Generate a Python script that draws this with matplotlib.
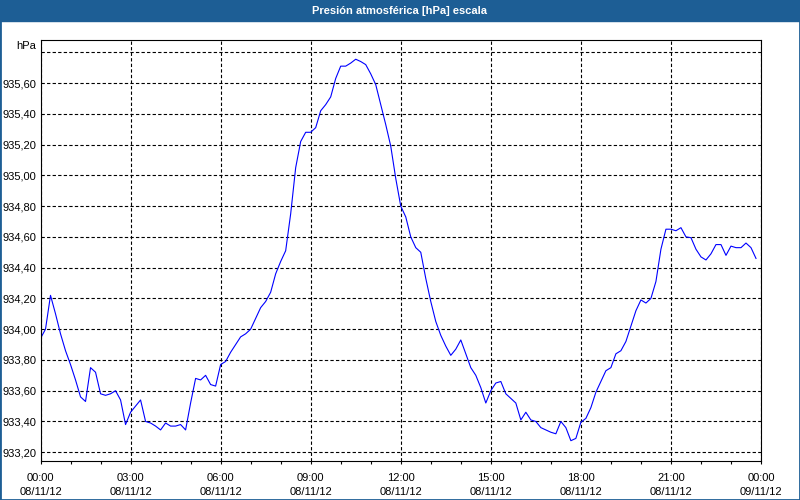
import matplotlib
matplotlib.use("Agg")
import matplotlib.pyplot as plt
import matplotlib.dates as mdates
from matplotlib.patches import Rectangle
from matplotlib.ticker import FixedLocator, FuncFormatter
import pandas as pd

plt.rcParams["font.family"] = ["Liberation Sans", "DejaVu Sans"]

# presion cada 10 minutos, 08/11/12 00:00 .. 23:50
presion = [
    933.94, 934.00, 934.22, 934.10, 933.97, 933.86, 933.77, 933.67, 933.56, 933.53,
    933.75, 933.72, 933.58, 933.57, 933.58, 933.60, 933.54, 933.38, 933.46, 933.50,
    933.54, 933.40, 933.39, 933.37, 933.345, 933.39, 933.37, 933.37, 933.38, 933.345,
    933.52, 933.68, 933.67, 933.70, 933.64, 933.63, 933.77, 933.79, 933.85, 933.90,
    933.95, 933.97, 934.00, 934.07, 934.14, 934.18, 934.24, 934.36, 934.44, 934.51,
    934.75, 935.05, 935.22, 935.28, 935.28, 935.31, 935.42, 935.46, 935.51, 935.63,
    935.71, 935.71, 935.73, 935.755, 935.74, 935.72, 935.66, 935.59, 935.46, 935.33,
    935.19, 934.98, 934.80, 934.73, 934.60, 934.53, 934.50, 934.33, 934.18, 934.05,
    933.96, 933.89, 933.83, 933.87, 933.93, 933.84, 933.75, 933.70, 933.62, 933.52,
    933.60, 933.65, 933.66, 933.58, 933.55, 933.52, 933.41, 933.46, 933.41, 933.40,
    933.36, 933.345, 933.33, 933.32, 933.40, 933.36, 933.275, 933.29, 933.395, 933.42,
    933.49, 933.59, 933.66, 933.73, 933.75, 933.84, 933.86, 933.92, 934.02, 934.12,
    934.19, 934.17, 934.20, 934.31, 934.52, 934.65, 934.65, 934.64, 934.66, 934.60,
    934.595, 934.52, 934.47, 934.45, 934.49, 934.55, 934.55, 934.48, 934.54, 934.53,
    934.53, 934.56, 934.53, 934.46,
]
horas = pd.date_range("2012-11-08 00:00", periods=len(presion), freq="10min")
y_ticks = [933.2, 933.4, 933.6, 933.8, 934.0, 934.2, 934.4, 934.6, 934.8,
           935.0, 935.2, 935.4, 935.6, 935.8]
titulo = "Presión atmosférica [hPa] escala"
azul = "#1d5e95"

fig = plt.figure(figsize=(8, 5), dpi=100, facecolor="white")
ax = fig.add_axes([40.5 / 800, 39.3 / 500, 720.5 / 800, 420.7 / 500])

ax.plot(horas, presion, color="#0000ff", lw=0.8)

ax.set_xlim(pd.Timestamp("2012-11-08 00:00"), pd.Timestamp("2012-11-09 00:00"))
ax.set_ylim(933.145, 935.88)

ax.yaxis.set_major_locator(FixedLocator(y_ticks))
ax.yaxis.set_major_formatter(FuncFormatter(
    lambda v, p: "" if v > 935.7 else f"{v:.2f}".replace(".", ",")))
ax.xaxis.set_major_locator(mdates.HourLocator(byhour=range(0, 24, 3)))
ax.xaxis.set_minor_locator(mdates.HourLocator())
ax.xaxis.set_major_formatter(mdates.DateFormatter("%H:%M\n%d/%m/%y"))

ax.grid(True, which="major", color="black", lw=0.8, linestyle=(0, (3, 2)))
ax.tick_params(axis="y", length=0, pad=3, labelsize=8, labelcolor="black")
ax.tick_params(axis="x", which="both", length=2.5, width=0.8, direction="out",
               pad=6, labelsize=8, labelcolor="black")
for s in ax.spines.values():
    s.set_color("black")
    s.set_linewidth(0.8)
for lbl in ax.get_xticklabels():
    lbl.set_linespacing(1.6)

fig.text(36 / 800, 1 - 46 / 500, "hPa", ha="right", va="center",
         fontsize=8, color="black")

# barra de titulo y marco
fig.patches.append(Rectangle((0, 1 - 20.5 / 500), 1, 20.5 / 500,
                             transform=fig.transFigure, color=azul, zorder=-1))
fig.patches.append(Rectangle((0, 0), 1, 1, transform=fig.transFigure,
                             fill=False, edgecolor=azul, lw=2))
fig.text(0.5, 1 - 10.5 / 500, titulo, ha="center", va="center",
         fontsize=8, fontweight="bold", color="white")

fig.savefig("out.png", dpi=100, facecolor=fig.get_facecolor())
